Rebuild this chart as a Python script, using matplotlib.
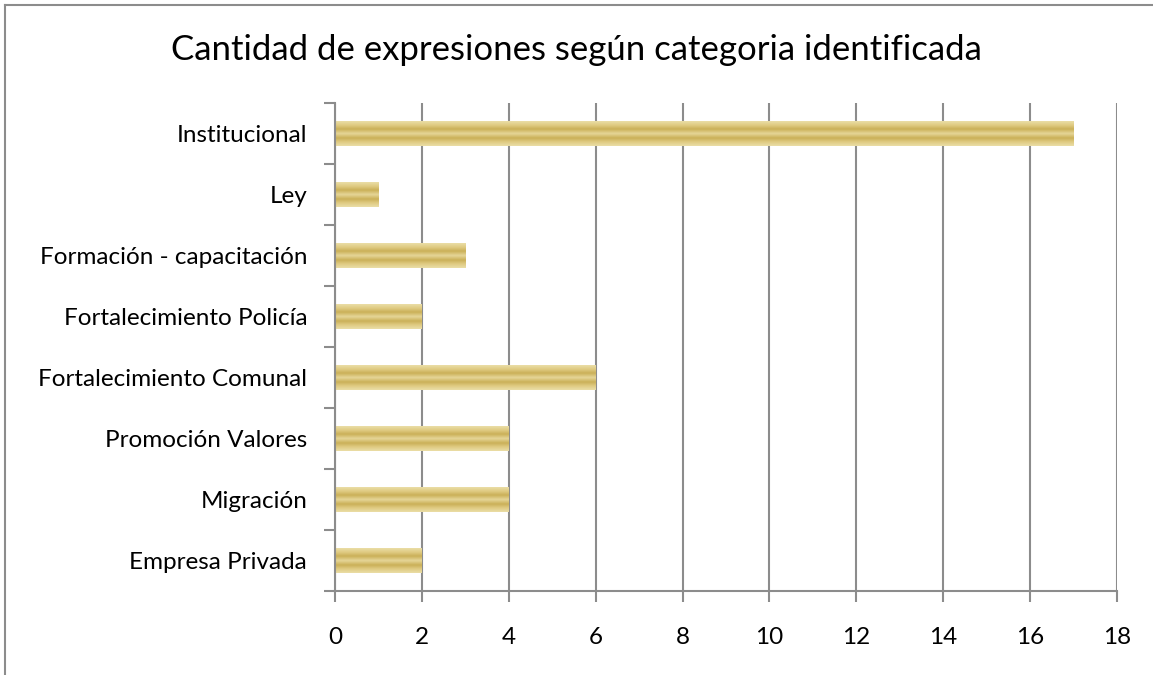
import matplotlib
matplotlib.use("Agg")
import matplotlib.pyplot as plt
import numpy as np
from matplotlib.colors import LinearSegmentedColormap
from matplotlib.lines import Line2D

categories = ["Institucional", "Ley", "Formación - capacitación", "Fortalecimiento Policía",
              "Fortalecimiento Comunal", "Promoción Valores", "Migración", "Empresa Privada"]
values = [17, 1, 3, 2, 6, 4, 4, 2]
xticks = [0, 2, 4, 6, 8, 10, 12, 14, 16, 18]
title = "Cantidad de expresiones según categoria identificada"

plt.rcParams['font.family'] = ['Lato', 'DejaVu Sans']

fig = plt.figure(figsize=(11.53, 6.75), dpi=100)
ax = fig.add_axes([335/1153, 1 - 591/675, (1117-335)/1153, (591-103)/675])

y = np.arange(len(categories))
bars = ax.barh(y, values, height=0.4, color="#D8C274", zorder=2, linewidth=0)

# stripe gradient inside bars
stripe = LinearSegmentedColormap.from_list("stripe", [
    (0.0, "#EADDA6"), (0.15, "#E0CC84"), (0.32, "#CBB058"), (0.5, "#E6D698"),
    (0.68, "#CBB058"), (0.85, "#E0CC84"), (1.0, "#EADDA6")])
grad = np.linspace(0, 1, 64).reshape(-1, 1)
for b in bars:
    x0, y0 = b.get_x(), b.get_y()
    w, h = b.get_width(), b.get_height()
    im = ax.imshow(grad, cmap=stripe, aspect="auto", extent=(x0, x0 + w, y0 + h, y0),
                   zorder=3, interpolation="bilinear")
    im.set_clip_path(b)

ax.set_xlim(0, 18)
ax.set_ylim(len(categories) - 0.5, -0.5)
ax.set_xticks(xticks)
ax.set_xticklabels([str(t) for t in xticks])
ax.set_yticks(np.arange(len(categories) + 1) - 0.5)
ax.set_yticklabels([])
ax.set_yticks(y, minor=True)
ax.set_yticklabels(categories, minor=True)
ax.tick_params(axis="y", which="major", length=8, width=1.5, color="#8C8C8C", direction="out")
ax.tick_params(axis="y", which="minor", length=0, pad=20, labelsize=17.5)
ax.tick_params(axis="x", which="major", length=8, width=1.5, color="#8C8C8C", direction="out",
               pad=18, labelsize=17.5)
ax.grid(axis="x", color="#8C8C8C", linewidth=1.5, zorder=1)
ax.set_axisbelow(True)
for s in ["top", "right"]:
    ax.spines[s].set_visible(False)
for s in ["left", "bottom"]:
    ax.spines[s].set_color("#8C8C8C")
    ax.spines[s].set_linewidth(1.5)
    ax.spines[s].set_zorder(4)

fig.text(0.5, 1 - 50/675, title, ha="center", va="center", fontsize=25)

# outer frame (partially visible)
fig.add_artist(Line2D([5/1153, 1], [1 - 5/675, 1 - 5/675], transform=fig.transFigure,
                      color="#8C8C8C", linewidth=1.5))
fig.add_artist(Line2D([5/1153, 5/1153], [0, 1 - 5/675], transform=fig.transFigure,
                      color="#8C8C8C", linewidth=1.5))

fig.savefig("out.png", dpi=100)
